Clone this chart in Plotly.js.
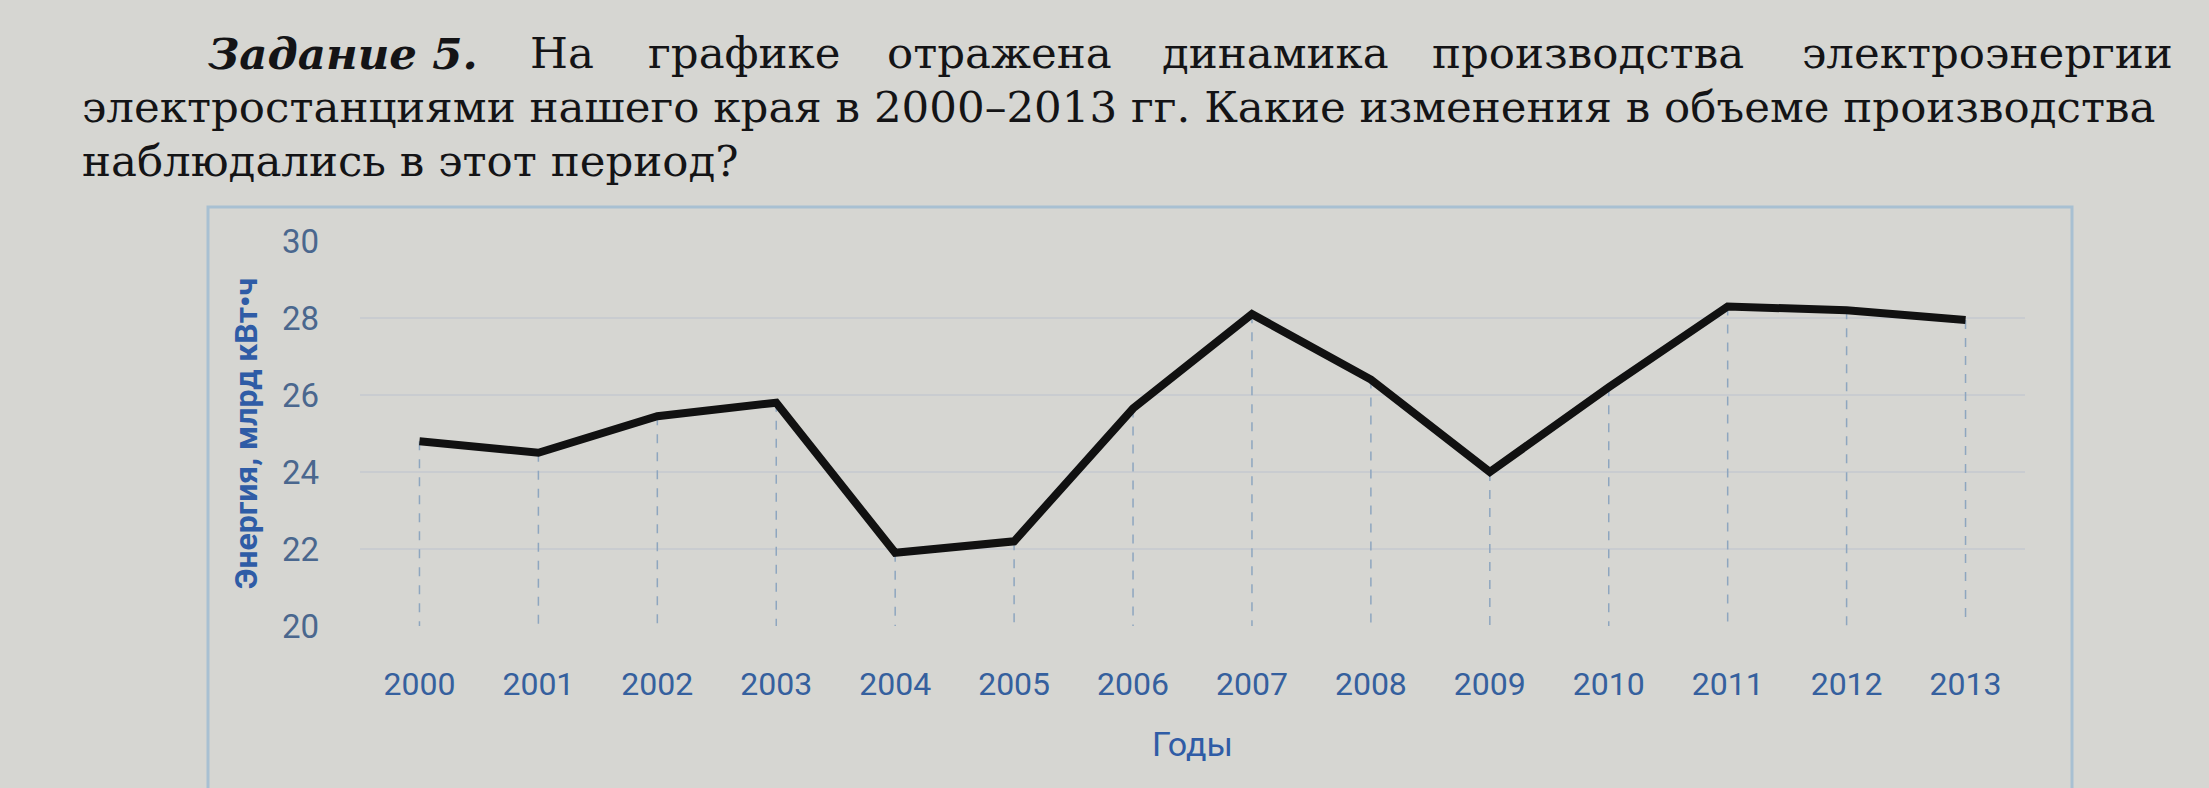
<!DOCTYPE html>
<html>
<head>
<meta charset="utf-8">
<script src="https://cdn.plot.ly/plotly-3.0.1.min.js"></script>
<style>
html,body{margin:0;padding:0;background:#d6d6d2;}
#chart{width:2209px;height:788px;}
</style>
</head>
<body>
<div id="chart"></div>
<script>
// ---- data ----
const years = ["2000","2001","2002","2003","2004","2005","2006","2007","2008","2009","2010","2011","2012","2013"];
const energy = [24.8, 24.5, 25.45, 25.8, 21.9, 22.2, 25.65, 28.1, 26.4, 24.0, 26.2, 28.3, 28.2, 27.95];
const yTicks = [20, 22, 24, 26, 28, 30];
const xTitle = "Годы";
const yTitle = "Энергия, млрд кВт•ч";
const line1Words = ["<b><i>Задание 5.</i></b>", "На", "графике", "отражена", "динамика", "производства", "электроэнергии"];
const line2 = "электростанциями нашего края в 2000–2013 гг. Какие изменения в объеме производства";
const line3 = "наблюдались в этот период?";

// ---- layout geometry ----
const W = 2209, H = 788;
const M = {l: 360, r: 184, t: 241, b: 162};
const PW = W - M.l - M.r, PH = H - M.t - M.b;
const px = x => (x - M.l) / PW;
const py = y => (H - M.b - y) / PH;
const yMin = 20, yMax = 30;

// drop lines from each point to the axis
const dx = [], dy = [];
years.forEach((yr, i) => { dx.push(yr, yr, null); dy.push(energy[i], yMin, null); });

const traces = [
  {x: dx, y: dy, type: 'scatter', mode: 'lines', hoverinfo: 'skip',
   line: {color: '#8ea6bf', width: 1.5, dash: 'dash'}, showlegend: false},
  {x: years, y: energy, type: 'scatter', mode: 'lines',
   line: {color: '#111111', width: 8}, showlegend: false}
];

const textFont = {family: 'DejaVu Serif', size: 43.5, color: '#141416'};
const wordCenters = [343, 562, 744, 999, 1275, 1588, 1987];
const annotations = line1Words.map((w, i) => ({
  text: w, xref: 'paper', yref: 'paper', x: px(wordCenters[i]), y: py(53),
  xanchor: 'center', yanchor: 'middle', showarrow: false, font: textFont
}));
annotations.push({text: line2, xref: 'paper', yref: 'paper', x: px(80), y: py(107),
  xanchor: 'left', yanchor: 'middle', showarrow: false, font: textFont});
annotations.push({text: line3, xref: 'paper', yref: 'paper', x: px(80), y: py(161),
  xanchor: 'left', yanchor: 'middle', showarrow: false, font: textFont});

const layout = {
  width: W, height: H,
  margin: M,
  paper_bgcolor: '#d6d6d2', plot_bgcolor: '#d6d6d2',
  showlegend: false,
  xaxis: {
    type: 'category', range: [-0.5, years.length - 0.5],
    showgrid: false, zeroline: false, showline: false, ticks: '',
    ticklabelstandoff: 36,
    tickfont: {family: 'Roboto', size: 32, color: '#35609e'},
    title: {text: xTitle, standoff: 30, font: {family: 'Roboto', size: 34, color: '#2f5ca6'}},
    automargin: true, fixedrange: true
  },
  yaxis: {
    range: [yMin, yMax], tickvals: yTicks,
    showgrid: true, gridcolor: '#c9ccd0', gridwidth: 1.5,
    zeroline: false, showline: false, ticks: '',
    ticklabelstandoff: 40,
    tickfont: {family: 'Roboto', size: 33, color: '#4a678e'},
    title: {text: yTitle, standoff: 14, font: {family: 'Roboto', size: 32, color: '#2f5ca6', weight: 'bold'}},
    automargin: true, fixedrange: true
  },
  shapes: [
    {type: 'rect', xref: 'paper', yref: 'paper', x0: px(208), x1: px(2072), y0: py(800), y1: py(207),
     line: {color: '#a8c0d2', width: 3}, fillcolor: 'rgba(0,0,0,0)', layer: 'below'}
  ],
  annotations: annotations
};

Plotly.newPlot('chart', traces, layout, {displayModeBar: false, staticPlot: true});
</script>
</body>
</html>
